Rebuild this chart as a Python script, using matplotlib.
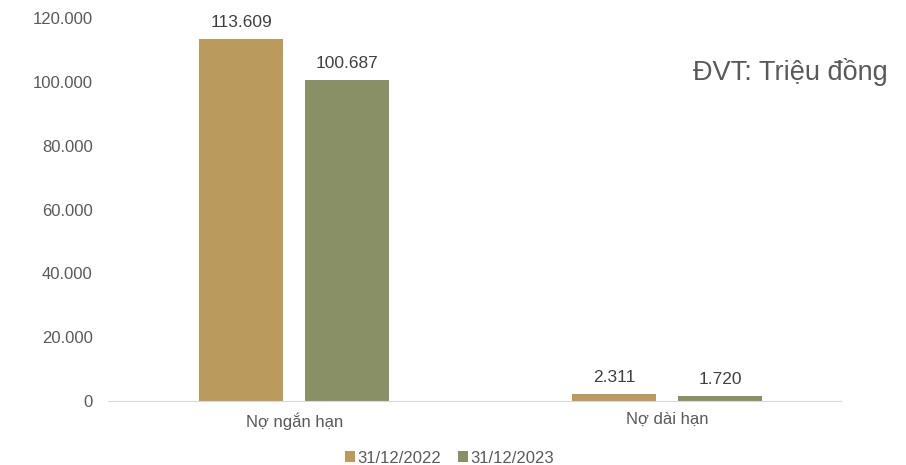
import matplotlib.pyplot as plt
import numpy as np

plt.rcParams['font.family'] = ['Liberation Sans', 'DejaVu Sans']

categories = ['Nợ ngắn hạn', 'Nợ dài hạn']
series_names = ['31/12/2022', '31/12/2023']
values_2022 = [113609, 2311]
values_2023 = [100687, 1720]
y_ticks = [0, 20000, 40000, 60000, 80000, 100000, 120000]

colors = ['#BB9A5E', '#8A9065']
text_color = '#595959'


def vn_fmt(v):
    return f'{v:,.0f}'.replace(',', '.')


fig = plt.figure(figsize=(9.06, 4.65), dpi=100)
ax = fig.add_axes([0.119, 0.1376, 0.809, 0.8234])

x = np.arange(len(categories))
width = 0.225
offset = 0.142

for vals, name, color, dx in [(values_2022, series_names[0], colors[0], -offset),
                              (values_2023, series_names[1], colors[1], offset)]:
    bars = ax.bar(x + dx, vals, width, color=color, label=name)
    for b, v in zip(bars, vals):
        ax.annotate(vn_fmt(v), (b.get_x() + b.get_width() / 2, v),
                    xytext=(0, 6), textcoords='offset points',
                    ha='center', va='bottom', fontsize=12.5, color='#404040')

ax.set_xlim(-0.5, 1.465)
ax.set_ylim(0, 120000)
ax.set_yticks(y_ticks)
ax.set_yticklabels([vn_fmt(t) for t in y_ticks])
ax.set_xticks(x)
ax.set_xticklabels(categories)

for side in ['top', 'right', 'left']:
    ax.spines[side].set_visible(False)
ax.spines['bottom'].set_color('#D9D9D9')
ax.tick_params(axis='both', length=0, labelsize=12, labelcolor=text_color)
ax.tick_params(axis='y', pad=11)
ax.tick_params(axis='x', pad=8)

fig.text(0.765, 0.845, 'ĐVT: Triệu đồng', fontsize=19.5, color=text_color,
         ha='left', va='center')

leg = fig.legend(loc='lower center', bbox_to_anchor=(0.496, -0.005), ncol=2,
                 frameon=False, fontsize=12, handlelength=0.6, handleheight=0.6,
                 handletextpad=0.15, columnspacing=1.0, borderaxespad=0,
                 borderpad=0.1)
for t in leg.get_texts():
    t.set_color(text_color)

fig.savefig('out.png', dpi=100)
